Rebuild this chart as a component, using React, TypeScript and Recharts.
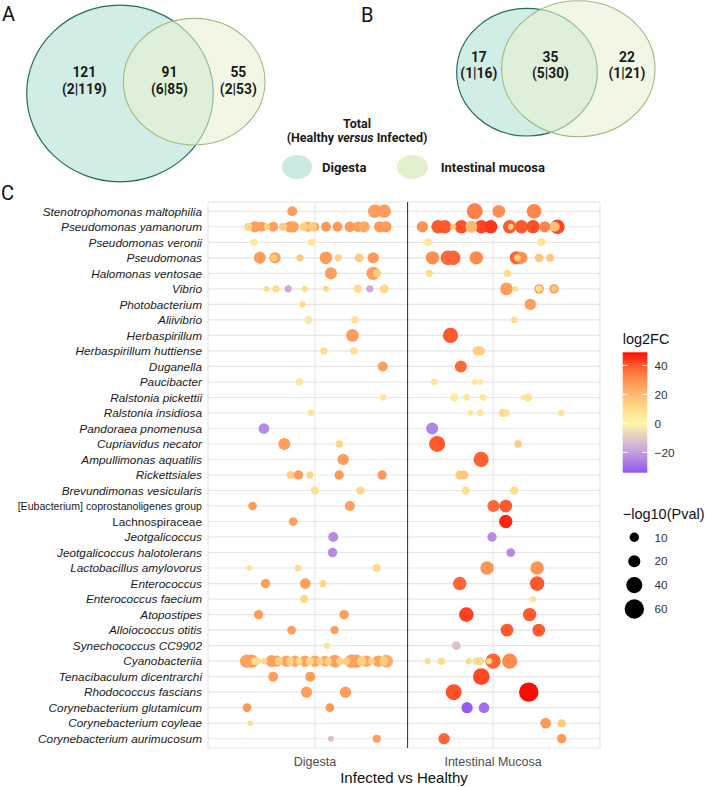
import React from "react";
import { ScatterChart, Scatter, XAxis, YAxis, ZAxis, CartesianGrid, ReferenceLine, Cell } from "recharts";

const taxa = [
  "Stenotrophomonas maltophilia", "Pseudomonas yamanorum", "Pseudomonas veronii", "Pseudomonas",
  "Halomonas ventosae", "Vibrio", "Photobacterium", "Aliivibrio", "Herbaspirillum",
  "Herbaspirillum huttiense", "Duganella", "Paucibacter", "Ralstonia pickettii", "Ralstonia insidiosa",
  "Pandoraea pnomenusa", "Cupriavidus necator", "Ampullimonas aquatilis", "Rickettsiales",
  "Brevundimonas vesicularis", "[Eubacterium] coprostanoligenes group", "Lachnospiraceae",
  "Jeotgalicoccus", "Jeotgalicoccus halotolerans", "Lactobacillus amylovorus", "Enterococcus",
  "Enterococcus faecium", "Atopostipes", "Alloiococcus otitis", "Synechococcus CC9902",
  "Cyanobacteriia", "Tenacibaculum dicentrarchi", "Rhodococcus fascians", "Corynebacterium glutamicum",
  "Corynebacterium coyleae", "Corynebacterium aurimucosum",
];
const uprightTaxa = ["[Eubacterium] coprostanoligenes group", "Lachnospiraceae"];
const tissueTicks = [1, 2];
const tissueLabels = ["Digesta", "Intestinal Mucosa"];
const dividerAt = 1.52;

// [taxon index, jittered position, log2FC, -log10(Pval)]
const digestaPoints: number[][] = [
  [0, 0.873, 26, 12], [0, 1.336, 27, 26], [0, 1.389, 27, 26],
  [1, 0.663, 27, 17], [1, 0.701, 27, 12], [1, 0.766, 27, 12], [1, 0.86, 27, 17], [1, 0.878, 26, 17],
  [1, 0.962, 26, 12], [1, 1.0, 26, 8], [1, 1.062, 28, 12], [1, 1.127, 28, 12], [1, 1.196, 28, 14],
  [1, 1.243, 27, 14], [1, 1.276, 24, 17], [1, 1.364, 28, 17], [1, 1.398, 28, 17],
  [1, 0.626, 12, 6], [1, 0.731, 14, 2], [1, 0.822, 15, 6], [1, 0.938, 14, 8], [1, 0.985, 15, 10],
  [2, 0.658, 5, 4], [2, 0.981, 6, 4],
  [3, 0.691, 27, 20], [3, 0.776, 27, 17], [3, 0.77, 15, 4], [3, 0.916, 16, 4], [3, 1.062, 27, 23],
  [3, 1.131, 13, 4], [3, 1.248, 15, 8], [3, 1.327, 28, 17],
  [4, 1.09, 27, 20], [4, 1.327, 27, 26], [4, 1.349, 15, 6],
  [5, 0.729, 10, 0.5], [5, 0.781, 11, 4], [5, 0.85, -17, 4], [5, 0.944, 10, 1], [5, 1.062, 12, 1],
  [5, 1.241, 10, 6], [5, 1.308, -17, 4], [5, 1.389, 12, 8],
  [6, 0.929, 10, 1],
  [7, 0.964, -3, 6], [7, 1.224, 8, 4],
  [8, 1.211, 27, 23],
  [9, 1.05, 9, 4], [9, 1.219, 9, 4],
  [10, 1.381, 27, 12],
  [11, 0.912, 6, 4],
  [12, 1.383, 6, 2.4],
  [13, 0.977, 6, 2.4],
  [14, 0.714, -24, 14.5],
  [15, 0.828, 27, 20], [15, 1.138, 13, 4],
  [16, 1.159, 27, 17],
  [17, 0.865, 14, 6], [17, 0.908, 28, 10], [17, 0.972, 12, 4], [17, 1.136, 28, 10], [17, 1.377, 28, 10],
  [18, 1.0, 8, 6], [18, 1.256, 12, 6],
  [19, 0.65, 27, 8], [19, 1.196, 27, 12],
  [20, 0.878, 27, 8],
  [21, 1.103, -24, 12],
  [22, 1.099, -24, 10],
  [23, 0.632, 8, 0], [23, 0.906, 10, 2.4], [23, 1.347, 11, 6],
  [24, 0.723, 27, 10], [24, 0.946, 27, 14.5], [24, 1.045, 12, 4],
  [25, 0.94, 12, 6],
  [26, 0.684, 27, 10], [26, 1.164, 27, 10],
  [27, 0.869, 27, 8], [27, 1.11, 27, 6],
  [28, 1.067, 8, 1],
  [29, 0.617, 26, 26], [29, 0.645, 26, 26], [29, 0.757, 26, 20], [29, 0.785, 26, 17], [29, 0.841, 26, 17],
  [29, 0.888, 25, 17], [29, 0.944, 26, 17], [29, 1.0, 25, 17], [29, 1.056, 25, 14.5], [29, 1.112, 26, 23],
  [29, 1.205, 26, 26], [29, 1.233, 26, 26], [29, 1.29, 25, 17], [29, 1.355, 26, 17], [29, 1.402, 24, 23],
  [29, 0.663, 10, 4], [29, 0.682, 10, 1], [29, 0.716, 12, 1], [29, 0.798, 14, 6], [29, 0.86, 14, 6],
  [29, 0.91, 12, 4], [29, 0.972, 12, 6], [29, 1.028, 14, 4], [29, 1.075, 13, 4], [29, 1.14, 13, 4],
  [29, 1.177, 14, 4], [29, 1.261, 14, 10], [29, 1.318, 13, 2.4], [29, 1.387, 14, 10],
  [30, 0.766, 27, 12], [30, 0.974, 27, 12],
  [31, 0.953, 27, 17], [31, 1.172, 27, 17],
  [32, 0.619, 28, 8], [32, 1.084, 28, 8],
  [33, 0.637, 10, 0],
  [34, 1.09, -12, 1], [34, 1.347, 27, 6],
];

const mucosaPoints: number[][] = [
  [0, 1.897, 33, 39], [0, 2.032, 30, 23], [0, 2.23, 32, 32],
  [1, 1.603, 30, 17], [1, 1.691, 40, 26], [1, 1.729, 40, 26], [1, 1.822, 41, 26], [1, 1.934, 42, 26],
  [1, 1.987, 44, 26], [1, 2.093, 40, 26], [1, 2.159, 40, 26], [1, 2.224, 41, 26], [1, 2.29, 32, 17],
  [1, 2.361, 42, 32], [1, 1.776, 15, 1], [1, 1.878, 20, 20], [1, 2.099, 14, 1], [1, 2.346, 18, 12],
  [2, 1.635, 6, 6], [2, 2.271, 6, 6],
  [3, 1.66, 30, 26], [3, 1.747, 38, 32], [3, 1.776, 38, 32], [3, 1.906, 31, 26], [3, 2.131, 38, 26],
  [3, 2.159, 30, 20], [3, 2.136, 15, 2.4], [3, 2.258, 16, 8], [3, 2.32, 16, 6],
  [4, 1.641, 10, 4], [4, 2.08, 10, 4],
  [5, 2.075, 27, 23], [5, 2.125, 10, 0], [5, 2.258, 28, 10], [5, 2.258, 8, 2.4], [5, 2.342, 28, 10], [5, 2.342, 16, 1],
  [6, 2.209, 27, 17],
  [7, 2.119, 9, 2.4],
  [8, 1.761, 40, 36],
  [9, 1.912, 14, 10], [9, 1.931, 14, 8],
  [10, 1.819, 37, 20],
  [11, 1.671, 6, 2.4], [11, 1.897, 6, 1], [11, 1.929, 6, 0],
  [12, 1.781, 5, 6], [12, 1.852, 6, 2.4], [12, 1.944, 6, 2.4], [12, 2.168, 6, 0], [12, 2.196, 7, 6],
  [13, 1.873, 6, 1], [13, 1.927, 6, 2.4], [13, 2.056, 12, 6], [13, 2.075, 7, 4], [13, 2.383, 6, 2.4],
  [14, 1.658, -25, 20],
  [15, 1.686, 40, 39], [15, 2.14, 15, 4],
  [16, 1.933, 39, 35],
  [17, 1.813, 16, 8], [17, 1.837, 16, 8],
  [18, 1.847, 9, 6], [18, 2.118, 10, 6],
  [19, 2.002, 38, 20], [19, 2.071, 40, 23],
  [20, 2.071, 46, 26],
  [21, 1.994, -24, 10],
  [22, 2.099, -24, 8],
  [23, 1.966, 29, 26], [23, 2.247, 29, 26],
  [24, 1.813, 38, 26], [24, 2.247, 40, 32],
  [25, 2.224, 8, 1],
  [26, 1.85, 43, 32], [26, 2.205, 40, 26],
  [27, 2.078, 40, 23], [27, 2.256, 40, 23],
  [28, 1.794, -12, 8],
  [29, 1.632, 10, 1], [29, 1.71, 10, 4], [29, 1.863, 10, 1], [29, 1.906, 11, 4], [29, 1.925, 12, 6],
  [29, 2.0, 38, 35], [29, 2.093, 31, 35], [29, 1.977, 13, 1],
  [30, 1.934, 42, 43],
  [31, 1.779, 41, 39], [31, 2.2, 49, 60],
  [32, 1.854, -33, 17], [32, 1.949, -29, 14.5],
  [33, 2.295, 28, 14.5], [33, 2.385, 15, 6],
  [34, 1.725, 38, 17], [34, 2.385, 28, 10],
];

// log2FC colour scale stops: [value, r, g, b]
const fcStops: number[][] = [
  [-34, 145, 85, 240], [-20, 195, 160, 225], [0, 255, 245, 168], [12, 255, 215, 135],
  [24, 255, 170, 100], [32, 255, 135, 75], [40, 255, 90, 45], [49, 255, 10, 0],
];
const fcTicks = [40, 20, 0, -20];
const pvalTicks = [10, 20, 40, 60];
const zDomain = [0, 70];
const zRange = [24, 340.4];

// Venn counts: [total, healthy, infected] for left-only, shared, right-only
const vennA = [[121, 2, 119], [91, 6, 85], [55, 2, 53]];
const vennB = [[17, 1, 16], [35, 5, 30], [22, 1, 21]];

function fcColor(v: number): string {
  const s = fcStops;
  if (v <= s[0][0]) return `rgb(${s[0][1]},${s[0][2]},${s[0][3]})`;
  for (let i = 1; i < s.length; i++) {
    if (v <= s[i][0]) {
      const t = (v - s[i - 1][0]) / (s[i][0] - s[i - 1][0]);
      const c = [1, 2, 3].map((k) => Math.round(s[i - 1][k] + t * (s[i][k] - s[i - 1][k])));
      return `rgb(${c[0]},${c[1]},${c[2]})`;
    }
  }
  const l = s[s.length - 1];
  return `rgb(${l[1]},${l[2]},${l[3]})`;
}

function sizeRadius(p: number): number {
  const area = zRange[0] + ((zRange[1] - zRange[0]) * (p - zDomain[0])) / (zDomain[1] - zDomain[0]);
  return Math.sqrt(area / Math.PI);
}

const toRows = (pts: number[][]) => pts.map(([t, x, fc, p]) => ({ x, y: t, fc, p }));
const digestaRows = toRows(digestaPoints);
const mucosaRows = toRows(mucosaPoints);

const PLOT_FONT = "'Liberation Sans', Arial, sans-serif";
const VENN_FONT = "Roboto, 'Noto Sans', sans-serif";

const YTick = (props: any) => {
  const { x, y, payload } = props;
  const name = taxa[payload.value];
  if (name === undefined) return null;
  const upright = uprightTaxa.includes(name);
  const long = name.length > 30;
  return (
    <text x={x} y={y} dy="0.36em" textAnchor="end" fontFamily={PLOT_FONT} fontSize={long ? 10.6 : 11.8}
      fontStyle={upright ? "normal" : "italic"} fill="#1a1a1a">
      {name}
    </text>
  );
};

const XTick = (props: any) => {
  const { x, y, payload } = props;
  const idx = tissueTicks.indexOf(payload.value);
  return (
    <text x={x} y={y} dy={18} textAnchor="middle" fontFamily={PLOT_FONT} fontSize={12.5} fill="#4d4d4d">
      {tissueLabels[idx]}
    </text>
  );
};

const fcMin = fcStops[0][0];
const fcMax = fcStops[fcStops.length - 1][0];
const barTop = 352.3;
const barBottom = 472.7;
const fcY = (v: number) => barBottom - ((v - fcMin) / (fcMax - fcMin)) * (barBottom - barTop);

const VennNumbers = ({ data, xs, y1, y2 }: { data: number[][]; xs: number[]; y1: number; y2: number }) => (
  <g fontFamily={VENN_FONT} fontWeight={700} fontSize={13.8} fill="#1a1a1a" textAnchor="middle">
    {data.map((d, i) => (
      <g key={i}>
        <text x={xs[i]} y={y1}>{d[0]}</text>
        <text x={xs[i]} y={y2}>{`(${d[1]}|${d[2]})`}</text>
      </g>
    ))}
  </g>
);

export default function App() {
  return (
    <div style={{ position: "relative", width: 708, height: 787, background: "#fff" }}>
      <style>{"body{margin:0}"}</style>
      <ScatterChart width={708} height={787} margin={{ top: 202, right: 108, bottom: 0, left: 8 }}>
        <CartesianGrid stroke="#e6e6e6" strokeWidth={1.1} />
        <XAxis type="number" dataKey="x" domain={[0.4, 2.6]} ticks={tissueTicks} height={39}
          axisLine={false} tickLine={false} tickSize={0} tickMargin={0} tick={<XTick />} interval={0} />
        <YAxis type="number" dataKey="y" domain={[-0.6, 34.6]} reversed ticks={taxa.map((_, i) => i)}
          interval={0} width={200} axisLine={false} tickLine={false} tickSize={0} tickMargin={6} tick={<YTick />} />
        <ZAxis type="number" dataKey="p" domain={zDomain} range={zRange} />
        <ReferenceLine x={dividerAt} stroke="#3d3d3d" strokeWidth={1.1} />
        <Scatter data={digestaRows} isAnimationActive={false}>
          {digestaRows.map((r, i) => (<Cell key={`d${i}`} fill={fcColor(r.fc)} />))}
        </Scatter>
        <Scatter data={mucosaRows} isAnimationActive={false}>
          {mucosaRows.map((r, i) => (<Cell key={`m${i}`} fill={fcColor(r.fc)} />))}
        </Scatter>
      </ScatterChart>

      <svg width={708} height={787} style={{ position: "absolute", left: 0, top: 0, pointerEvents: "none" }}>
        <defs>
          <linearGradient id="fcgrad" x1="0" y1="1" x2="0" y2="0">
            {fcStops.map((s, i) => (
              <stop key={i} offset={(s[0] - fcMin) / (fcMax - fcMin)} stopColor={`rgb(${s[1]},${s[2]},${s[3]})`} />
            ))}
          </linearGradient>
        </defs>

        {/* Panel letters */}
        <g fontFamily={VENN_FONT} fontSize={20} fill="#111">
          <text x={2} y={21}>A</text>
          <text x={361} y={21.5}>B</text>
          <text x={1} y={200}>C</text>
        </g>

        {/* Venn A */}
        <ellipse cx={120} cy={93.5} rx={93.3} ry={88.3} fill="rgb(210,236,230)" stroke="#2a6a5e" strokeWidth={1.2} />
        <ellipse cx={194.2} cy={81.7} rx={70.8} ry={63.3} fill="rgb(231,241,208)" fillOpacity={0.58} stroke="#9fbb82" strokeWidth={1.1} />
        <VennNumbers data={vennA} xs={[84.3, 169.5, 238.3]} y1={76.5} y2={94} />

        {/* Venn B */}
        <ellipse cx={527} cy={72.2} rx={70.3} ry={63.8} fill="rgb(210,236,230)" stroke="#2a6a5e" strokeWidth={1.2} />
        <ellipse cx={578.3} cy={68.7} rx={76.7} ry={68} fill="rgb(231,241,208)" fillOpacity={0.58} stroke="#9fbb82" strokeWidth={1.1} />
        <VennNumbers data={vennB} xs={[478.8, 550.5, 627]} y1={61.5} y2={78} />

        {/* Venn legend */}
        <g fontFamily={VENN_FONT} fontWeight={700} fill="#1a1a1a">
          <text x={357} y={127.5} fontSize={12.5} textAnchor="middle">Total</text>
          <text x={357} y={141.5} fontSize={12.5} textAnchor="middle">
            (Healthy <tspan fontStyle="italic">versus</tspan> Infected)
          </text>
          <ellipse cx={297} cy={167} rx={15} ry={12} fill="rgb(205,233,227)" />
          <text x={322} y={171.5} fontSize={13}>Digesta</text>
          <ellipse cx={412.5} cy={167} rx={15.5} ry={12} fill="rgb(226,240,208)" />
          <text x={440.7} y={171.5} fontSize={13}>Intestinal mucosa</text>
        </g>

        {/* Axis title */}
        <text x={404} y={783} textAnchor="middle" fontFamily={PLOT_FONT} fontSize={15} fill="#111">
          Infected vs Healthy
        </text>

        {/* log2FC colourbar */}
        <g fontFamily={PLOT_FONT}>
          <text x={622.7} y={343.5} fontSize={14.5} fill="#111">log2FC</text>
          <rect x={622.7} y={barTop} width={24.6} height={barBottom - barTop} fill="url(#fcgrad)" />
          {fcTicks.map((t) => (
            <g key={t}>
              <line x1={622.7} x2={627.6} y1={fcY(t)} y2={fcY(t)} stroke="#fff" strokeWidth={1} />
              <line x1={642.4} x2={647.3} y1={fcY(t)} y2={fcY(t)} stroke="#fff" strokeWidth={1} />
              <text x={654.5} y={fcY(t) + 4.2} fontSize={11.8} fill="#333">
                {t < 0 ? `\u2212${Math.abs(t)}` : t}
              </text>
            </g>
          ))}
        </g>

        {/* size legend */}
        <g fontFamily={PLOT_FONT}>
          <text x={622.7} y={518.5} fontSize={14.5} fill="#111">{"\u2212log10(Pval)"}</text>
          {pvalTicks.map((p, i) => (
            <g key={p}>
              <circle cx={634.3} cy={537.3 + i * 23.9} r={sizeRadius(p)} fill="#000" />
              <text x={654.5} y={537.3 + i * 23.9 + 4.2} fontSize={11.8} fill="#333">{p}</text>
            </g>
          ))}
        </g>
      </svg>
    </div>
  );
}
